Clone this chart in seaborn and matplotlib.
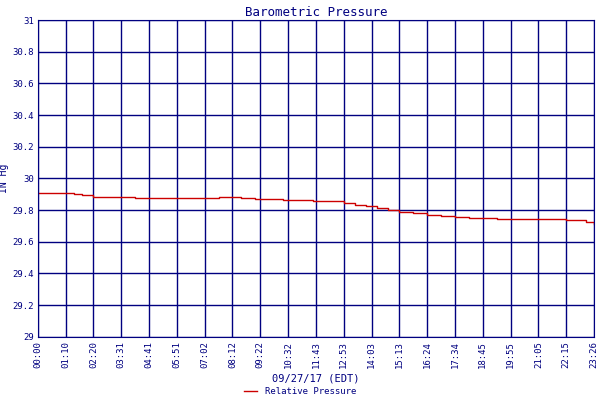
import numpy as np
import pandas as pd
import matplotlib
matplotlib.use("Agg")
import matplotlib.pyplot as plt
import seaborn as sns

NAVY = "#000080"
RED = "#cc0000"

tick_labels = ["00:00", "01:10", "02:20", "03:31", "04:41", "05:51", "07:02", "08:12",
               "09:22", "10:32", "11:43", "12:53", "14:03", "15:13", "16:24", "17:34",
               "18:45", "19:55", "21:05", "22:15", "23:26"]

# readings, positions in tick units (0 = 00:00, 20 = 23:26)
pos = [0.0, 0.1, 0.5, 1.0, 1.3, 1.6, 2.0, 2.6, 3.0, 3.5, 4.0, 4.6, 5.0, 5.6, 6.0,
       6.5, 7.0, 7.3, 7.8, 8.2, 8.8, 9.3, 9.9, 10.3, 10.6, 11.0, 11.4, 11.8, 12.2,
       12.6, 13.0, 13.5, 14.0, 14.5, 15.0, 15.5, 16.0, 16.5, 17.0, 17.5, 18.0,
       18.5, 19.0, 19.3, 19.7, 20.0]
pressure = [29.91, 29.905, 29.905, 29.905, 29.90, 29.895, 29.885, 29.885, 29.88,
            29.875, 29.875, 29.875, 29.875, 29.875, 29.875, 29.88, 29.88, 29.875,
            29.87, 29.87, 29.865, 29.865, 29.86, 29.86, 29.855, 29.845, 29.835,
            29.825, 29.815, 29.80, 29.79, 29.78, 29.77, 29.765, 29.755, 29.75,
            29.75, 29.745, 29.745, 29.745, 29.745, 29.745, 29.74, 29.735, 29.725,
            29.715]

df = pd.DataFrame({"pos": pos, "pressure": pressure})

plt.rcParams["font.family"] = "DejaVu Sans Mono"
fig, ax = plt.subplots(figsize=(6, 4), dpi=100)
fig.subplots_adjust(left=0.063, right=0.99, top=0.95, bottom=0.158)

sns.lineplot(data=df, x="pos", y="pressure", ax=ax, color=RED, linewidth=1.0,
             drawstyle="steps-post", label="Relative Pressure", legend=False)

ax.set_xlim(0, 20)
ax.set_ylim(29, 31)
ax.set_xticks(range(len(tick_labels)))
ax.set_xticklabels(tick_labels, rotation=90, fontsize=6.5, color=NAVY)
yt = np.round(np.arange(29, 31.01, 0.2), 1)
ax.set_yticks(yt)
ax.set_yticklabels([f"{v:g}" for v in yt], fontsize=6.5, color=NAVY)
ax.tick_params(length=0, pad=3)
ax.grid(True, color=NAVY, linewidth=1)
for s in ax.spines.values():
    s.set_color(NAVY)
ax.set_title("Barometric Pressure", color=NAVY, fontsize=9, pad=3)
ax.set_xlabel("09/27/17 (EDT)", color=NAVY, fontsize=7.5, labelpad=4)
ax.set_ylabel("IN Hg", color=NAVY, fontsize=7, labelpad=2)
handles, labels = ax.get_legend_handles_labels()
leg = fig.legend(handles, labels, loc="lower center", bbox_to_anchor=(0.5, -0.01),
                 frameon=False, fontsize=6.5, handlelength=1.5)
for t in leg.get_texts():
    t.set_color(NAVY)

fig.savefig("out.png", dpi=100)
